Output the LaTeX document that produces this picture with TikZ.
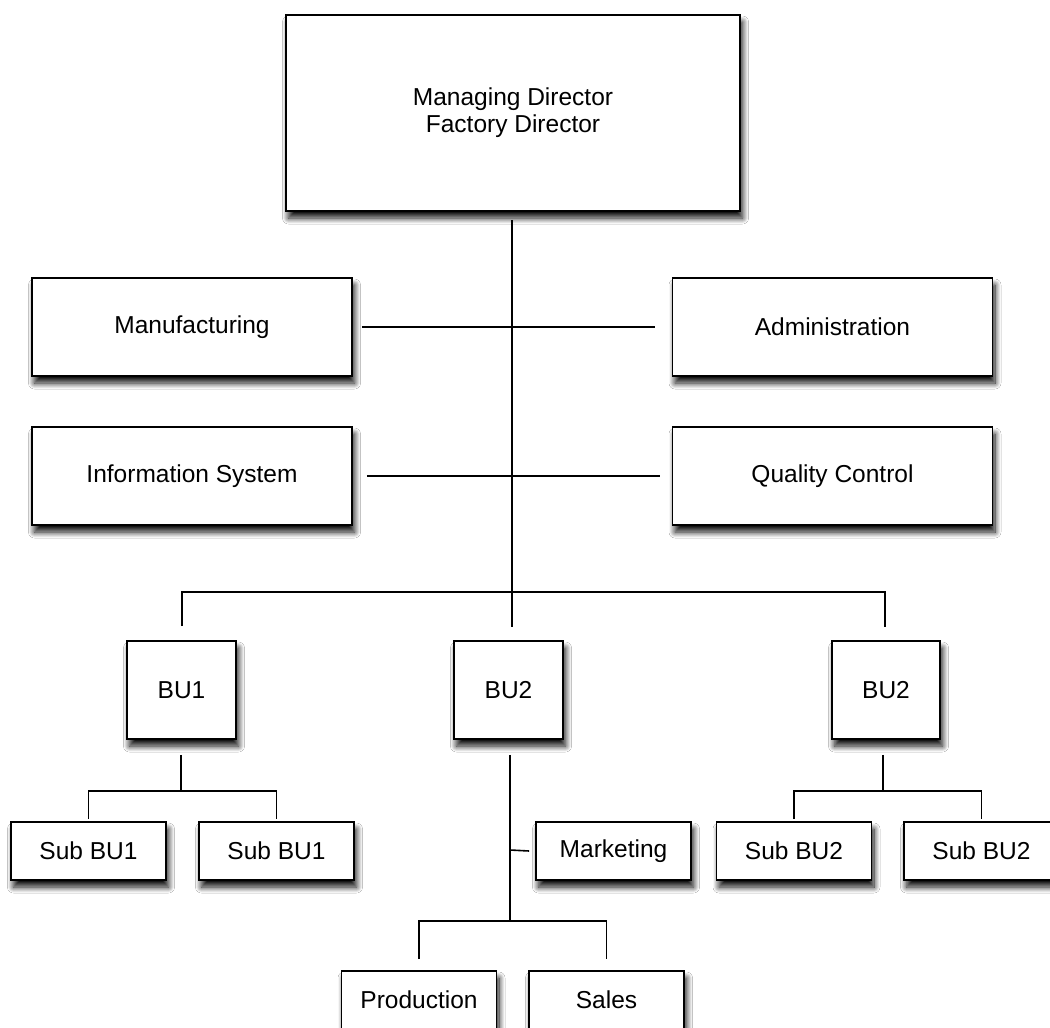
\documentclass[tikz,border=0pt]{standalone}
\usepackage{fontspec}
\setmainfont{Liberation Sans}
\usetikzlibrary{shadows.blur}
\begin{document}
\begin{tikzpicture}[x=1pt,y=-1pt,
  orgbox/.style={draw=black, line width=1.6pt, fill=white, rectangle,
    inner sep=0pt, align=center, font=\fontsize{24.5}{27}\selectfont,
    blur shadow={shadow xshift=2.5pt, shadow yshift=-7pt,
      shadow blur radius=6pt, shadow blur steps=12, shadow opacity=95}},
  bigbox/.style={orgbox, minimum width=320pt, minimum height=98pt},
  bubox/.style={orgbox, minimum width=109pt, minimum height=98pt},
  subbox/.style={orgbox, minimum width=155pt, minimum height=58pt},
  link/.style={line width=1.6pt, black}]
\useasboundingbox[fill=white] (0,0) rectangle (1050,1028);

% top of the hierarchy
\node[orgbox, minimum width=454pt, minimum height=196pt] (md) at (513,113)
  {Managing Director\\Factory Director};

% staff departments
\node[bigbox] (manu) at (192,327) {Manufacturing};
\node[bigbox] (admin) at (832.5,327) {Administration};
\node[bigbox] (info) at (192,476) {Information System};
\node[bigbox] (qc) at (832.5,476) {Quality Control};

% business units
\node[bubox] (bua) at (181.5,690) {BU1};
\node[bubox] (bub) at (508.5,690) {BU2};
\node[bubox, minimum width=108pt] (buc) at (886,690) {BU2};

% sub units
\node[subbox] (sa1) at (88.5,851) {Sub BU1};
\node[subbox] (sa2) at (276.5,851) {Sub BU1};
\node[subbox] (mkt) at (613.5,851) {Marketing};
\node[subbox] (sc1) at (794,851) {Sub BU2};
\node[subbox] (sc2) at (981.5,851) {Sub BU2};
\node[subbox] (prod) at (419,1000) {Production};
\node[subbox] (sales) at (606.5,1000) {Sales};

% junction points
\coordinate (trunk) at (512,627);
\coordinate (busL) at (182,592);
\coordinate (busR) at (885,592);
\coordinate (aJ) at (181,791);
\coordinate (cJ) at (883,791);
\coordinate (bJ) at (510,921);
\coordinate (mJ) at (510,850);

% main trunk and staff links
\draw[link] ([yshift=-8pt]md.south -| trunk) -- (trunk);
\draw[link] ([xshift=9pt]manu.east) -- ([xshift=-17pt]admin.west);
\draw[link] ([xshift=14pt]info.east) -- ([xshift=-12pt]qc.west);

% business unit bus
\draw[link] (busL |- bua.north) ++(0,-14) -- (busL) -- (busR) -- ++(0,35);

% BU1 branch
\draw[link] ([yshift=-15pt]bua.south -| aJ) -- (aJ);
\draw[link] ([yshift=2pt]sa1.north) -- (sa1.north |- aJ) -- (sa2.north |- aJ) -- ([yshift=2pt]sa2.north);

% BU2 (centre) branch
\draw[link] ([yshift=-15pt]bub.south -| bJ) -- (bJ);
\draw[link] (mJ) -- ([xshift=-6pt]mkt.west);
\draw[link] ([yshift=11pt]prod.north) -- (prod.north |- bJ) -- (sales.north |- bJ) -- ([yshift=11pt]sales.north);

% BU2 (right) branch
\draw[link] ([yshift=-15pt]buc.south -| cJ) -- (cJ);
\draw[link] ([yshift=2pt]sc1.north) -- (sc1.north |- cJ) -- (sc2.north |- cJ) -- ([yshift=2pt]sc2.north);
\end{tikzpicture}
\end{document}
